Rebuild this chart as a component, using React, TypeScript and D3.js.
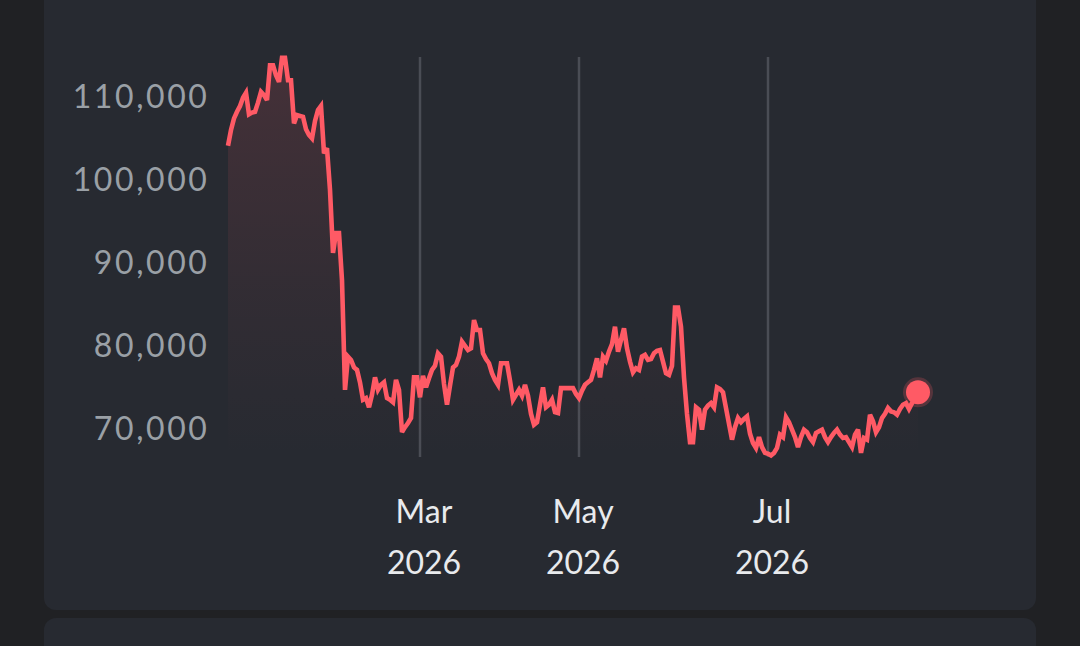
import React from "react";
import * as d3 from "d3";

// ---- data ----
const prices: number[] = [
  104000, 105900, 107300, 108100, 108800, 109800, 110400, 107800, 108000, 108100,
  109200, 110500, 110100, 109500, 113700, 113700, 112500, 111700, 114600, 114600,
  111900, 111900, 106700, 107700, 107600, 107500, 106000, 105300, 104900, 107000,
  108300, 108800, 103100, 103700, 98700, 91100, 93500, 93500, 87800, 74600,
  78600, 78200, 77300, 77000, 75500, 73400, 73600, 72500, 74000, 76100,
  74600, 75200, 75500, 73600, 73400, 73100, 75800, 74600, 69500, 70100,
  70600, 71200, 76100, 76100, 73700, 76300, 74900, 76000, 77000, 77500,
  79000, 78600, 75300, 72800, 75100, 77300, 77600, 78600, 80400, 79900,
  79400, 79600, 83000, 81800, 81800, 79000, 78300, 77800, 76600, 75800,
  75200, 77800, 77800, 77800, 75700, 73400, 74000, 74600, 73900, 75200,
  73900, 71700, 70400, 70700, 72800, 74900, 72500, 72800, 73400, 71900,
  71800, 74800, 74800, 74800, 74800, 74800, 74100, 73600, 74500, 75200,
  75500, 75800, 77000, 78400, 76100, 78600, 78100, 79200, 80100, 82200,
  79200, 80600, 82000, 79600, 78000, 76700, 77200, 77000, 78600, 78800,
  78200, 78300, 79000, 79300, 79400, 78000, 76600, 76400, 77500, 84500,
  84500, 82200, 76100, 71700, 68300, 68300, 72500, 72200, 69800, 72200,
  72700, 73000, 72500, 74900, 74700, 74300, 72400, 70500, 68600, 70100,
  71200, 70700, 71100, 71400, 69300, 68200, 67600, 68900, 67700, 67000,
  66900, 66700, 67000, 67600, 69200, 68900, 71300, 70700, 69800, 68900,
  67700, 68900, 69800, 69500, 68800, 68300, 69400, 69600, 69800, 68900,
  68300, 68900, 69400, 69800, 69200, 68800, 68900, 68300, 67700, 69200,
  69800, 67000, 68800, 68600, 71600, 70800, 69500, 70100, 71200, 71700,
  72400, 72000, 71900, 71600, 72300, 72800, 73000, 72300, 73000, 73600,
  74300,
];

const yTicks: number[] = [70000, 80000, 90000, 100000, 110000];
const monthTickIndex: number[] = [64, 117, 180];
const monthLabels: string[] = ["Mar", "May", "Jul"];
const yearLabels: string[] = ["2026", "2026", "2026"];

// ---- layout ----
const W = 1080;
const H = 646;
const X0 = 228;
const X1 = 918;
const Y_TOP = 57;
const Y_BOTTOM = 457;
const LINE_COLOR = "#ff5a65";
const FONT = "Lato, 'Open Sans', sans-serif";

export default function App() {
  const x = d3.scaleLinear().domain([0, prices.length - 1]).range([X0, X1]);
  const y = d3.scaleLinear().domain([70000, 110000]).range([428, 96]);

  const line = d3
    .line<number>()
    .x((_, i) => x(i))
    .y((d) => y(d));
  const area = d3
    .area<number>()
    .x((_, i) => x(i))
    .y0(Y_BOTTOM)
    .y1((d) => y(d));

  const last = prices.length - 1;
  const fmt = d3.format(",");

  return (
    <svg
      width={W}
      height={H}
      viewBox={`0 0 ${W} ${H}`}
      style={{ position: "absolute", left: 0, top: 0, display: "block" }}
    >
      <defs>
        <linearGradient id="areaGrad" x1="0" y1="0" x2="0" y2="1">
          <stop offset="0%" stopColor={LINE_COLOR} stopOpacity={0.14} />
          <stop offset="60%" stopColor={LINE_COLOR} stopOpacity={0.05} />
          <stop offset="100%" stopColor={LINE_COLOR} stopOpacity={0} />
        </linearGradient>
      </defs>
      <rect x={0} y={0} width={W} height={H} fill="#202124" />
      <rect x={44} y={-20} width={992} height={630} rx={12} fill="#272a31" />
      <rect x={44} y={618} width={992} height={80} rx={12} fill="#272a31" />

      {/* vertical month gridlines */}
      {monthTickIndex.map((t, i) => (
        <line
          key={"g" + i}
          x1={x(t)}
          x2={x(t)}
          y1={Y_TOP}
          y2={Y_BOTTOM}
          stroke="#4a4d55"
          strokeWidth={2.5}
        />
      ))}

      {/* area + line */}
      <path d={area(prices) || ""} fill="url(#areaGrad)" />
      <path
        d={line(prices) || ""}
        fill="none"
        stroke={LINE_COLOR}
        strokeWidth={4.6}
        strokeLinejoin="miter"
        strokeMiterlimit={3}
      />

      {/* end dot */}
      <circle cx={x(last)} cy={y(prices[last])} r={15} fill={LINE_COLOR} fillOpacity={0.22} />
      <circle cx={x(last)} cy={y(prices[last])} r={12} fill={LINE_COLOR} />

      {/* y tick labels */}
      {yTicks.map((t) => (
        <text
          key={"y" + t}
          x={209.5}
          y={y(t)}
          dy="0.36em"
          textAnchor="end"
          fontFamily={FONT}
          fontSize={32}
          letterSpacing={2.6}
          fill="#9aa0a6"
        >
          {fmt(t)}
        </text>
      ))}

      {/* x tick labels */}
      {monthTickIndex.map((t, i) => (
        <g key={"x" + i}>
          <text
            x={x(t) + 4}
            y={523}
            textAnchor="middle"
            fontFamily={FONT}
            fontSize={32}
            fill="#e8eaed"
          >
            {monthLabels[i]}
          </text>
          <text
            x={x(t) + 4}
            y={574}
            textAnchor="middle"
            fontFamily={FONT}
            fontSize={32}
            fill="#e8eaed"
          >
            {yearLabels[i]}
          </text>
        </g>
      ))}
    </svg>
  );
}
